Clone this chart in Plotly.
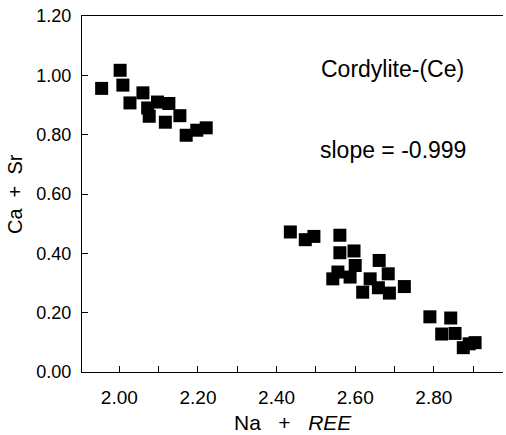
import plotly.graph_objects as go

# Na + REE (x) and Ca + Sr (y)
na_ree = [1.955, 2.002, 2.009, 2.027, 2.060, 2.072, 2.097, 2.076, 2.126, 2.117,
          2.154, 2.170, 2.197, 2.221,
          2.435, 2.473, 2.495, 2.561, 2.561, 2.597, 2.661, 2.600, 2.684, 2.543,
          2.556, 2.587, 2.638, 2.619, 2.659, 2.687, 2.725,
          2.790, 2.843, 2.820, 2.854, 2.875, 2.905, 2.890]
ca_sr = [0.956, 1.017, 0.967, 0.907, 0.941, 0.890, 0.910, 0.862, 0.905, 0.842,
         0.864, 0.798, 0.815, 0.823,
         0.472, 0.446, 0.457, 0.461, 0.402, 0.408, 0.376, 0.359, 0.331, 0.314,
         0.337, 0.320, 0.314, 0.269, 0.284, 0.266, 0.288,
         0.186, 0.182, 0.128, 0.130, 0.082, 0.099, 0.095]

x_ticks = [2.00, 2.20, 2.40, 2.60, 2.80]
y_ticks = [0.00, 0.20, 0.40, 0.60, 0.80, 1.00, 1.20]

FONT = "Liberation Sans, Arial, sans-serif"

fig = go.Figure()
fig.add_trace(go.Scatter(
    x=na_ree, y=ca_sr, mode="markers",
    marker=dict(symbol="square", size=13, color="black", line=dict(width=0)),
    showlegend=False,
))

nb = "\u00a0"
fig.update_layout(
    width=506, height=435,
    margin=dict(l=82, r=3, t=16, b=63),
    paper_bgcolor="white", plot_bgcolor="white",
    font=dict(family=FONT, color="black"),
    xaxis=dict(
        range=[1.905, 2.976], tickvals=x_ticks,
        ticktext=[f"{v:.2f}" for v in x_ticks],
        ticks="inside", ticklen=6, tickwidth=1, tickcolor="black",
        minor=dict(dtick=0.1, tick0=2.0, ticks="inside", ticklen=6, tickcolor="black"),
        showline=True, linecolor="black", linewidth=1, mirror=True,
        showgrid=False, zeroline=False,
        tickfont=dict(size=19, family=FONT), ticklabelstandoff=8,
    ),
    yaxis=dict(
        range=[0, 1.2], tickvals=y_ticks,
        ticktext=[f"{v:.2f}" for v in y_ticks],
        ticks="inside", ticklen=6, tickwidth=1, tickcolor="black",
        showline=True, linecolor="black", linewidth=1, mirror=False,
        showgrid=False, zeroline=False,
        tickfont=dict(size=18, family=FONT), ticklabelstandoff=6,
    ),
    annotations=[
        dict(text="Cordylite-(Ce)", x=2.696, y=1.021, xref="x", yref="y",
             showarrow=False, font=dict(size=23, family=FONT)),
        dict(text="slope = -0.999", x=2.695, y=0.748, xref="x", yref="y",
             showarrow=False, font=dict(size=23, family=FONT)),
        dict(text=f"Na{nb*3}+{nb*3}<i>REE</i>", x=0.5, y=-0.143, xref="paper", yref="paper",
             xanchor="center", yanchor="middle", showarrow=False,
             font=dict(size=21, family=FONT)),
        dict(text=f"Ca{nb*2}+{nb*2}Sr", x=-0.159, y=0.5, xref="paper", yref="paper",
             xanchor="center", yanchor="middle", textangle=-90, showarrow=False,
             font=dict(size=20, family=FONT)),
    ],
)

fig.write_html("out.html", config={"displayModeBar": False},
               post_script="document.body.style.margin='0';")
